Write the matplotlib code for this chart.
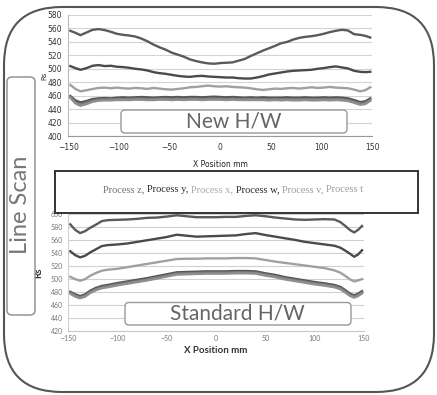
import matplotlib
matplotlib.use('Agg')
import matplotlib.pyplot as plt
from matplotlib.patches import FancyBboxPatch, Rectangle

# ---- data ----
# New H/W line scan
xNew = [-148, -143, -138, -132, -126, -120, -114, -108, -102, -96, -90, -84, -78,
        -72, -66, -60, -54, -48, -42, -36, -30, -24, -18, -12, -6, 0, 6, 12, 18,
        24, 30, 36, 42, 48, 54, 60, 66, 72, 78, 84, 90, 96, 102, 108, 114, 120,
        126, 132, 138, 143, 148]
newZ = [556.5, 553.5, 550, 554, 558, 559, 557.5, 555, 552, 550.5, 549.5, 548, 545,
        541, 536, 532, 528.5, 524, 521, 518, 514, 511.5, 509.5, 508, 507.5, 508.5,
        509, 509.5, 512, 514.5, 519, 523, 527, 530.5, 534, 538, 540, 543.5, 546,
        547.5, 548.5, 550, 552, 554.5, 556.5, 558, 557, 551.5, 550.5, 549, 546.5]
newY = [504, 501, 498.5, 501, 504.5, 505.5, 504, 504.5, 503, 502.5, 501.5, 500, 499,
        497.5, 495, 493.5, 492.5, 491, 489.5, 488.5, 488, 489, 489.5, 488.5, 488,
        487.5, 487, 487, 486, 485.5, 485.5, 487, 489, 491.5, 493, 494.5, 496, 497,
        497.5, 498, 498.5, 500, 501, 502.5, 503.5, 502, 500.5, 497, 495.5, 495, 495.5]
newX = [476, 470, 466.5, 468, 470, 471.5, 472, 471, 472, 471, 470.5, 471.5, 471,
        470, 471.5, 470.5, 469.5, 469, 470, 471, 472.5, 473, 474, 475, 474, 473.5,
        474, 473, 472.5, 472, 471, 469.5, 468.5, 469.5, 470.5, 470, 471, 471.5,
        470.5, 471.5, 472.5, 471.5, 472, 473, 472, 471.5, 471, 469, 466.5, 468, 472.5]
newW = [459.5, 453, 450, 452, 455, 456, 456.5, 456, 457, 457.5, 457, 457.5, 458,
        457.5, 457, 457.5, 458, 457.5, 458, 457.5, 458, 458, 457.5, 458, 458.5, 458,
        457.5, 458, 457.5, 457, 457.5, 457, 457.5, 457, 457, 457, 457.5, 457, 457,
        457.5, 457, 457, 457.5, 457, 457.5, 457, 456, 453.5, 450.5, 451.5, 456]
newV = [458, 450, 447, 449.5, 452.5, 454, 454.5, 454.5, 455, 455, 455, 455.5, 455.5,
        455, 455, 455.5, 455.5, 455, 455.5, 455, 455.5, 455.5, 455, 455.5, 455.5,
        455.5, 455, 455.5, 455, 455, 455, 455, 455, 454.5, 455, 454.5, 455, 454.5,
        454.5, 455, 454.5, 454.5, 455, 454.5, 455, 454.5, 453.5, 451, 448, 449, 454]
newT = [457, 448.5, 445, 447.5, 451, 452.5, 453, 453, 453.5, 453.5, 453.5, 454, 454,
        453.5, 453.5, 454, 454, 453.5, 454, 453.5, 454, 454, 453.5, 454, 454, 454,
        453.5, 454, 453.5, 453.5, 453.5, 453.5, 453.5, 453, 453.5, 453, 453.5, 453,
        453, 453.5, 453, 453, 453.5, 453, 453.5, 453, 452, 449.5, 446.5, 447.5, 452.5]

# Standard H/W line scan
xStd = [-148, -143, -138, -133, -128, -122, -116, -110, -100, -90, -80, -70, -60,
        -50, -40, -30, -20, -10, 0, 10, 20, 30, 40, 50, 60, 70, 80, 90, 100, 110,
        120, 126, 131, 136, 140, 144, 148]
stdZ = [584.5, 576, 571, 574, 579, 584, 589.5, 591, 591.5, 592, 593, 594.5, 595,
        596.5, 598.5, 597, 595.5, 595.5, 595.5, 596, 596, 597.5, 598.5, 597, 595,
        593.5, 592, 591.5, 592, 592.5, 592, 588, 582, 575.5, 572, 576, 582]
stdY = [543, 537, 533.5, 536, 541, 546, 551, 552.5, 553.5, 555, 557.5, 560, 562.5,
        565, 568.5, 567, 565.5, 566, 566.5, 567, 567.5, 569.5, 571, 568, 565.5, 563,
        560.5, 557.5, 555.5, 553.5, 551.5, 548.5, 544, 539, 534.5, 538, 544.5]
stdX = [503.5, 500, 497.5, 500, 505, 509.5, 513, 514.5, 516, 518.5, 521, 523.5, 526,
        528.5, 531, 531.5, 531.5, 532, 532, 532, 532.5, 532.5, 532, 529.5, 527, 525,
        523, 521, 519, 517, 513.5, 510, 505, 499.5, 496.5, 498, 500]
stdW = [480.5, 476.5, 474, 476.5, 482, 486.5, 489.5, 491, 494, 496.5, 499, 501.5,
        504.5, 507.5, 510.5, 511, 511.5, 512, 512, 512, 512.5, 512.5, 512, 509, 506.5,
        503, 500.5, 498, 495.5, 493.5, 491, 488, 483, 477.5, 475, 477.5, 481.5]
stdV = [479, 474.5, 472, 474.5, 480, 484.5, 487.5, 489, 492, 494.5, 497, 499.5,
        502.5, 505.5, 508.5, 509, 509.5, 510, 510, 510, 510.5, 510.5, 510, 507, 504.5,
        501, 498.5, 496, 493.5, 491.5, 489, 486, 481, 475.5, 473, 475.5, 479.5]
stdT = [477.5, 473, 470.5, 473, 478.5, 483, 486, 487.5, 490.5, 493, 495.5, 498,
        501, 504, 507, 507.5, 508, 508.5, 508.5, 508.5, 509, 509, 508.5, 505.5, 503,
        499.5, 497, 494.5, 492, 490, 487.5, 484.5, 479.5, 474, 471.5, 474, 478]

xTicks = [-150, -100, -50, 0, 50, 100, 150]
legendNames = ['Process z,', 'Process y,', 'Process x,', 'Process w,',
               'Process v,', 'Process t']
legendColors = ['#707070', '#2a2a2a', '#a8a8a8', '#2a2a2a', '#9c9c9c', '#9c9c9c']

lineColors = ['#5a5a5a', '#4a4a4a', '#a0a0a0', '#555555', '#7a7a7a', '#8e8e8e']

W, H = 437, 395
fig = plt.figure(figsize=(W / 100, H / 100), dpi=100)
fig.patch.set_facecolor('white')

narrow = ['Liberation Sans Narrow', 'DejaVu Sans']
sans = ['Lato', 'DejaVu Sans']

# ---- top chart: New H/W ----
ax1 = fig.add_axes([68.3 / W, 1 - 136 / H, 304 / W, 121 / H])
for ys, c in zip([newZ, newY, newX, newW, newV, newT], lineColors):
    ax1.plot(xNew, ys, color=c, lw=1.7, solid_joinstyle='round')
ax1.set_xlim(-150, 150)
ax1.set_ylim(400, 580)
ax1.set_yticks(range(400, 581, 20))
ax1.set_xticks(xTicks)
ax1.grid(axis='y', color='#d4d4d4', lw=0.8)
ax1.set_axisbelow(True)
for s in ['top', 'right']:
    ax1.spines[s].set_visible(False)
ax1.spines['left'].set_color('#bbbbbb')
ax1.spines['bottom'].set_color('#999999')
ax1.tick_params(length=0, labelsize=5.5, colors='#333333', labelfontfamily=narrow)
ax1.tick_params(axis='y', pad=4.5)
ax1.tick_params(axis='x', pad=5)
ax1.set_ylabel('Rs', fontsize=5, family=narrow, color='#333333')
ax1.yaxis.set_label_coords(-0.07, 0.5)
ax1.set_xlabel('X Position mm', fontsize=5.5, family=narrow, color='#222222')
ax1.xaxis.set_label_coords(0.5, -0.2)

# ---- bottom chart: Standard H/W ----
ax2 = fig.add_axes([68.3 / W, 1 - 331 / H, 295.7 / W, 116.7 / H])
for ys, c in zip([stdZ, stdY, stdX, stdW, stdV, stdT], lineColors):
    ax2.plot(xStd, ys, color=c, lw=1.7, solid_joinstyle='round')
ax2.set_xlim(-150, 150)
ax2.set_ylim(420, 600)
ax2.set_yticks(range(420, 601, 20))
ax2.set_xticks(xTicks)
ax2.grid(axis='y', color='#d0d0d0', lw=0.8)
ax2.set_axisbelow(True)
for s in ['top', 'right']:
    ax2.spines[s].set_visible(False)
ax2.spines['left'].set_color('#d0d0d0')
ax2.spines['bottom'].set_color('#c8c8c8')
ax2.tick_params(length=0, labelsize=5, colors='#777777', labelfontfamily=sans)
ax2.tick_params(axis='y', pad=4)
ax2.tick_params(axis='x', pad=3)
ax2.set_ylabel('Rs', fontsize=7, fontweight='bold', family=sans, color='#333333')
ax2.yaxis.set_label_coords(-0.085, 0.5)
ax2.set_xlabel('X Position mm', fontsize=7, fontweight='bold', family=sans,
               color='#333333')
ax2.xaxis.set_label_coords(0.5, -0.13)

# ---- overlay: frames, labels, legend box ----
ov = fig.add_axes([0, 0, 1, 1], zorder=10)
ov.set_xlim(0, W)
ov.set_ylim(H, 0)
ov.axis('off')
ov.patch.set_alpha(0)

ov.add_patch(FancyBboxPatch((4, 7), 430, 385, boxstyle='round,pad=0,rounding_size=58',
                            fill=False, ec='#555555', lw=1.5))
ov.add_patch(FancyBboxPatch((7, 77), 28, 238, boxstyle='round,pad=0,rounding_size=5',
                            fc='white', ec='#8a8a8a', lw=1))
ov.text(21, 205, 'Line Scan', rotation=90, ha='center', va='center',
        fontsize=17, color='#777777', family=sans)

ov.add_patch(FancyBboxPatch((121, 110), 226, 23, boxstyle='round,pad=0,rounding_size=4',
                            fc='white', ec='#999999', lw=1))
ov.text(234, 122, 'New H/W', ha='center', va='center', fontsize=15,
        color='#666666', family=sans)

ov.add_patch(FancyBboxPatch((125, 302.5), 226, 22.5,
                            boxstyle='round,pad=0,rounding_size=4',
                            fc='white', ec='#999999', lw=1))
ov.text(237, 314, 'Standard H/W', ha='center', va='center', fontsize=15,
        color='#666666', family=sans)

ov.add_patch(Rectangle((55, 171), 363, 42, fc='white', ec='#333333', lw=1.4))

# multi-coloured legend line: place pieces one after another on one baseline
fig.canvas.draw()
renderer = fig.canvas.get_renderer()
xPos = 103
gap = 2.6  # px, width of a space
for name, c in zip(legendNames, legendColors):
    t = ov.text(xPos, 192, name, color=c, fontsize=7.5, family='Liberation Serif',
                va='baseline', ha='left')
    bb = t.get_window_extent(renderer)
    xPos += bb.width + gap

fig.savefig('out.png', dpi=100)
